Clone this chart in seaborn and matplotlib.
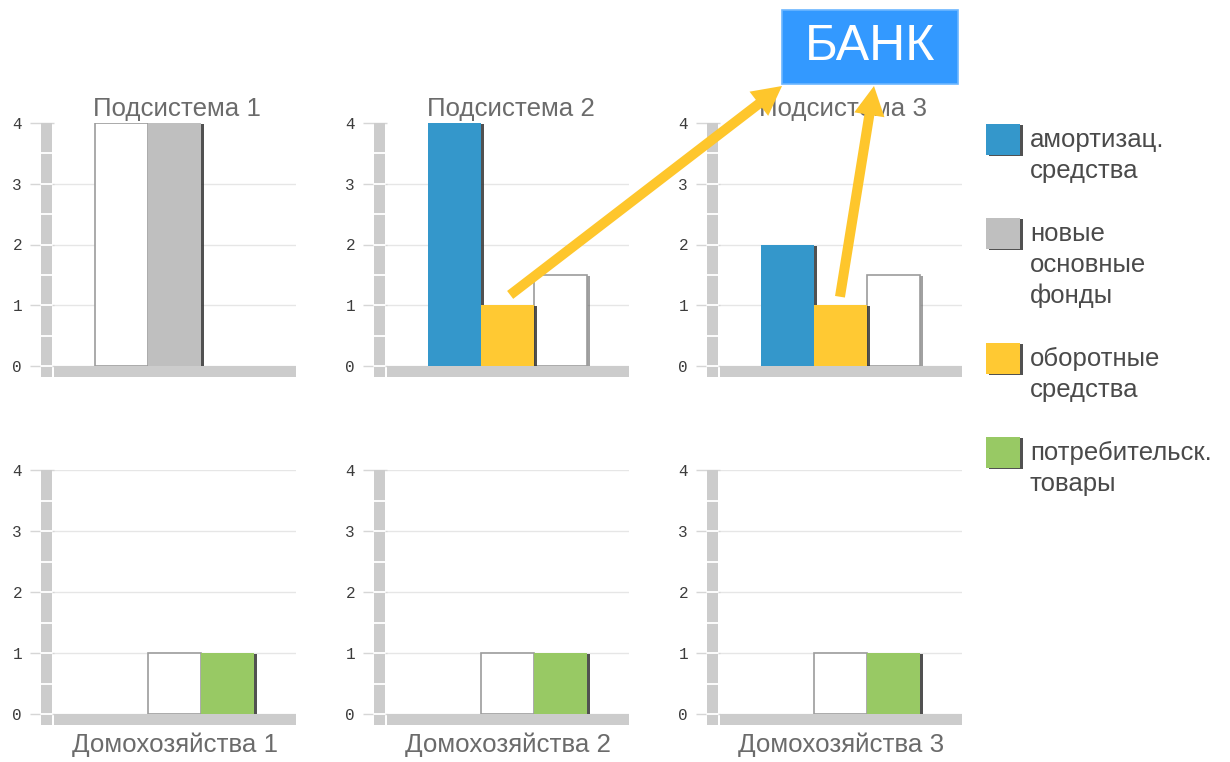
import numpy as np
import pandas as pd
import matplotlib
matplotlib.use("Agg")
import matplotlib.pyplot as plt
import matplotlib.patheffects as pe
import matplotlib.transforms as mtransforms
from matplotlib.patches import Rectangle, ConnectionPatch
import seaborn as sns

# ---------------- data ----------------
slots = ["a", "b", "c"]

series_names = ["амортизац.\nсредства", "новые\nосновные\nфонды",
                "оборотные\nсредства", "потребительск.\nтовары"]
series_colors = ["#3497cb", "#bfbfbf", "#ffc933", "#98c964"]
outline = "контур"

top_titles = ["Подсистема 1", "Подсистема 2", "Подсистема 3"]
top_series = [[outline, "новые\nосновные\nфонды"],
              ["амортизац.\nсредства", "оборотные\nсредства", outline],
              ["амортизац.\nсредства", "оборотные\nсредства", outline]]
top_slots = [["a", "b"], ["a", "b", "c"], ["a", "b", "c"]]
top_values = [[4, 4], [4, 1, 1.5], [2, 1, 1.5]]

bottom_titles = ["Домохозяйства 1", "Домохозяйства 2", "Домохозяйства 3"]
bottom_series = [[outline, "потребительск.\nтовары"]] * 3
bottom_slots = [["b", "c"]] * 3
bottom_values = [[1, 1], [1, 1], [1, 1]]

y_ticks = [0, 1, 2, 3, 4]
bank_label = "БАНК"

# ---------------- style ----------------
sns.set_theme(style="white")
plt.rcParams["font.family"] = ["Liberation Sans", "DejaVu Sans"]

W, H = 1230, 762
fig = plt.figure(figsize=(W / 100, H / 100), dpi=100)


def fx(px):
    return px / W


def fy(py):
    return 1 - py / H


palette = dict(zip(series_names, series_colors))
shadow = [pe.SimplePatchShadow(offset=(2.2, -0.8), shadow_rgbFace="#333333", alpha=0.85), pe.Normal()]
light_shadow = [pe.SimplePatchShadow(offset=(2.0, -0.8), shadow_rgbFace="#555555", alpha=0.55), pe.Normal()]

PLOT_W, PLOT_H, SLOT = 242, 243, 53
col_left = [54, 387, 720]
row_zero = [366, 714]


def draw_panel(ax, names, xs, vals, title, title_on_top):
    df = pd.DataFrame({"slot": xs, "value": vals, "series": names})
    filled = df[df["series"] != outline]
    ghost = df[df["series"] == outline]
    if len(ghost):
        sns.barplot(data=ghost, x="slot", y="value", order=slots, color="white",
                    saturation=1, width=1.0, edgecolor="#9c9c9c", linewidth=1.2,
                    errorbar=None, ax=ax)
    n_ghost = len(ax.patches)
    sns.barplot(data=filled, x="slot", y="value", hue="series", order=slots,
                hue_order=series_names, palette=palette, saturation=1, dodge=False,
                width=1.0, linewidth=0, errorbar=None, legend=False, ax=ax)
    for i, p in enumerate(ax.patches):
        p.set_path_effects(light_shadow if i < n_ghost else shadow)
        p.set_zorder(3)

    unit = PLOT_H / 4.0
    ax.set_xlim(-0.5 - 41 / SLOT, 2.5 + 42 / SLOT)
    ax.set_ylim(0, 4)
    ax.set_facecolor("none")
    for s in ax.spines.values():
        s.set_visible(False)
    ax.set_xticks([])
    ax.set_yticks(y_ticks)
    ax.set_yticklabels([str(t) for t in y_ticks], family="Liberation Mono")
    ax.set_xlabel("")
    ax.set_ylabel("")
    ax.tick_params(axis="y", left=True, length=17, width=1, color="#d6d6d6",
                   pad=6, labelsize=11.5, labelcolor="#3c3c3c")
    ax.yaxis.grid(True, color="#e6e6e6", lw=1)
    ax.set_axisbelow(True)
    if title_on_top:
        ax.get_ygridlines()[-1].set_visible(False)

    trans = mtransforms.blended_transform_factory(ax.transAxes, ax.transData)
    base_h = 11 / unit
    ax.add_patch(Rectangle((0, -base_h), 1, base_h, transform=trans, fc="#cccccc",
                           ec="none", clip_on=False, zorder=4))
    ax.add_patch(Rectangle((-13 / PLOT_W, -base_h), 11 / PLOT_W, 4 + base_h, transform=trans,
                           fc="#cccccc", ec="none", clip_on=False, zorder=4))
    for yv in np.arange(0, 4, 0.5):
        ax.plot([-13 / PLOT_W, -2 / PLOT_W], [yv, yv], transform=trans, color="white",
                lw=1.3, clip_on=False, zorder=5)

    if title_on_top:
        ax.text(0.51, 1 + 14 / PLOT_H, title, transform=ax.transAxes, ha="center",
                va="center", fontsize=18.6, color="#6b6b6b")
    else:
        ax.text(0.5, -31 / PLOT_H, title, transform=ax.transAxes, ha="center",
                va="center", fontsize=18.6, color="#6b6b6b")


top_axes = []
for i in range(3):
    ax = fig.add_axes([fx(col_left[i]), fy(row_zero[0]), PLOT_W / W, PLOT_H / H])
    draw_panel(ax, top_series[i], top_slots[i], top_values[i], top_titles[i], True)
    top_axes.append(ax)
for i in range(3):
    ax = fig.add_axes([fx(col_left[i]), fy(row_zero[1]), PLOT_W / W, (PLOT_H + 1) / H])
    draw_panel(ax, bottom_series[i], bottom_slots[i], bottom_values[i], bottom_titles[i], False)

# ---------------- bank box ----------------
fig.add_artist(Rectangle((fx(782), fy(84)), 176 / W, 74 / H, transform=fig.transFigure,
                         fc="#3399ff", ec="#6cb6ff", lw=1.2, zorder=3))
fig.text(fx(870), fy(47), bank_label, ha="center", va="center", fontsize=36,
         color="white", zorder=4)

# ---------------- arrows from the working-capital bars to the bank ----------------
arrow_style = "simple,head_length=2.1,head_width=2.2,tail_width=0.72"
for ax, start, tip in [(top_axes[1], (1.05, 1.17), (782, 86)),
                       (top_axes[2], (0.99, 1.14), (874, 86))]:
    fig.add_artist(ConnectionPatch(xyA=start, coordsA=ax.transData,
                                   xyB=(fx(tip[0]), fy(tip[1])), coordsB=fig.transFigure,
                                   arrowstyle=arrow_style, mutation_scale=10,
                                   fc="#fec62c", ec="none", shrinkA=0, shrinkB=0, zorder=6))

# ---------------- legend ----------------
pitch = 31.3
line_y = 139.0
for name, color in zip(series_names, series_colors):
    lines = name.split("\n")
    sq = Rectangle((fx(986), fy(line_y + 16)), 34 / W, 31 / H, transform=fig.transFigure,
                   fc=color, ec="none", zorder=3)
    sq.set_path_effects(shadow)
    fig.add_artist(sq)
    for k, ln in enumerate(lines):
        fig.text(fx(1030), fy(line_y + k * pitch + 8), ln, ha="left", va="baseline",
                 fontsize=18.5, color="#4a4a4a")
    line_y += (len(lines) + 1) * pitch

fig.savefig("out.png", dpi=100)
